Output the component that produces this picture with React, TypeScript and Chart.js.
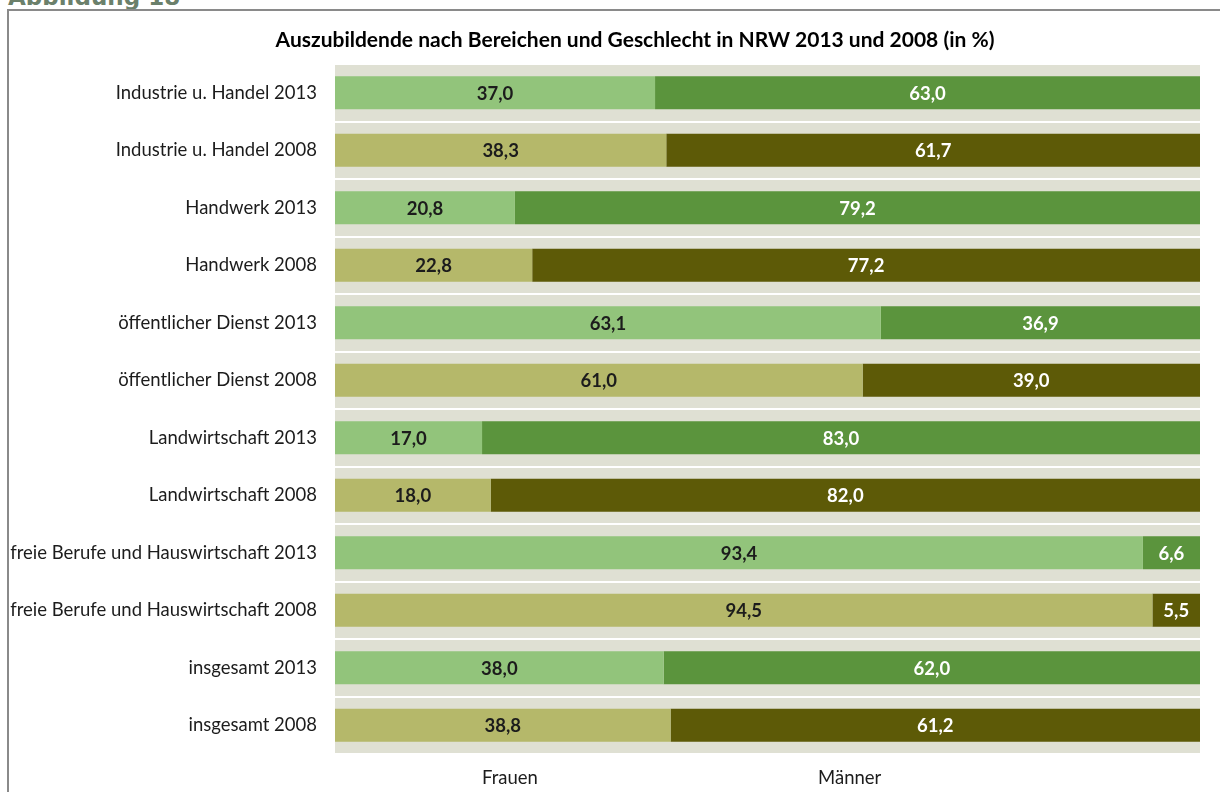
import React, { useEffect, useRef } from "react";
import { Chart, registerables } from "chart.js";

Chart.register(...registerables);

const chartTitle = "Auszubildende nach Bereichen und Geschlecht in NRW 2013 und 2008 (in %)";
const figureLabel = "Abbildung 18";

const categories = [
  "Industrie u. Handel 2013",
  "Industrie u. Handel 2008",
  "Handwerk 2013",
  "Handwerk 2008",
  "öffentlicher Dienst 2013",
  "öffentlicher Dienst 2008",
  "Landwirtschaft 2013",
  "Landwirtschaft 2008",
  "freie Berufe und Hauswirtschaft 2013",
  "freie Berufe und Hauswirtschaft 2008",
  "insgesamt 2013",
  "insgesamt 2008",
];

const seriesNames = ["Frauen", "Männer"];

const frauenValues = [37.0, 38.3, 20.8, 22.8, 63.1, 61.0, 17.0, 18.0, 93.4, 94.5, 38.0, 38.8];
const maennerValues = [63.0, 61.7, 79.2, 77.2, 36.9, 39.0, 83.0, 82.0, 6.6, 5.5, 62.0, 61.2];

const FONT = "Lato, 'Open Sans', sans-serif";
const PLOT_BG = "#dfe0d3";
const FRAUEN_2013 = "#92c47b";
const FRAUEN_2008 = "#b5b86a";
const MAENNER_2013 = "#5b943d";
const MAENNER_2008 = "#5d5a07";

const is2013 = (c: string) => c.endsWith("2013");
const frauenColors = categories.map((c) => (is2013(c) ? FRAUEN_2013 : FRAUEN_2008));
const maennerColors = categories.map((c) => (is2013(c) ? MAENNER_2013 : MAENNER_2008));
const fmt = (v: number) => v.toFixed(1).replace(".", ",");

const plotBackground = {
  id: "plotBackground",
  beforeDraw(chart: any) {
    const { ctx, chartArea } = chart;
    ctx.save();
    ctx.fillStyle = PLOT_BG;
    ctx.fillRect(chartArea.left, chartArea.top, chartArea.right - chartArea.left, chartArea.bottom - chartArea.top);
    ctx.restore();
  },
};

const titlePlugin = {
  id: "titleText",
  afterDraw(chart: any) {
    const { ctx } = chart;
    ctx.save();
    ctx.font = `bold 21px ${FONT}`;
    ctx.fillStyle = "#000000";
    ctx.textAlign = "center";
    ctx.textBaseline = "middle";
    ctx.fillText(chartTitle, 626, 29);
    ctx.restore();
  },
};

const barLabels = {
  id: "barLabels",
  afterDatasetsDraw(chart: any) {
    const { ctx } = chart;
    ctx.save();
    ctx.font = `bold 18.5px ${FONT}`;
    ctx.textAlign = "center";
    ctx.textBaseline = "middle";
    chart.data.datasets.forEach((ds: any, di: number) => {
      const meta = chart.getDatasetMeta(di);
      meta.data.forEach((el: any, i: number) => {
        const v = ds.data[i];
        ctx.fillStyle = di === 0 ? "#1c1c1c" : "#ffffff";
        ctx.fillText(fmt(v), (el.x + el.base) / 2, el.y + 1);
      });
    });
    ctx.restore();
  },
};

const bottomLegend = {
  id: "bottomLegend",
  afterDraw(chart: any) {
    const { ctx, chartArea } = chart;
    const w = chartArea.right - chartArea.left;
    const fr = [0.2023, 0.595];
    ctx.save();
    ctx.font = `18.5px ${FONT}`;
    ctx.fillStyle = "#1c1c1c";
    ctx.textAlign = "center";
    ctx.textBaseline = "middle";
    chart.data.datasets.forEach((ds: any, i: number) => {
      ctx.fillText(ds.label, chartArea.left + w * fr[i], chartArea.bottom + 24);
    });
    ctx.restore();
  },
};

export default function App() {
  const canvasRef = useRef<HTMLCanvasElement | null>(null);

  useEffect(() => {
    let chart: Chart | null = null;
    let cancelled = false;
    const make = () => {
      if (cancelled || !canvasRef.current) return;
      chart = new Chart(canvasRef.current, {
        type: "bar",
        data: {
          labels: categories,
          datasets: [
            {
              label: seriesNames[0],
              data: frauenValues,
              backgroundColor: frauenColors,
              borderWidth: 0,
              barPercentage: 0.574,
              categoryPercentage: 1,
            },
            {
              label: seriesNames[1],
              data: maennerValues,
              backgroundColor: maennerColors,
              borderWidth: 0,
              barPercentage: 0.574,
              categoryPercentage: 1,
            },
          ],
        },
        options: {
          indexAxis: "y",
          responsive: false,
          animation: false,
          layout: { padding: { left: 0, right: 59, top: 53, bottom: 57 } },
          plugins: {
            legend: { display: false },
            tooltip: { enabled: false },
            title: { display: false },
          },
          scales: {
            x: { type: "linear", stacked: true, min: 0, max: 100, display: false },
            y: {
              type: "category",
              stacked: true,
              offset: true,
              border: { display: false },
              grid: { offset: true, color: "#ffffff", lineWidth: 2, drawTicks: false },
              ticks: { padding: 18, color: "#1c1c1c", font: { family: FONT, size: 18.5 } },
              afterFit: (scale: any) => {
                scale.width = 326;
              },
            },
          },
        },
        plugins: [plotBackground, barLabels, bottomLegend, titlePlugin],
      });
    };
    const fonts: any = (document as any).fonts;
    if (fonts && fonts.load) {
      Promise.all([fonts.load(`16px Lato`), fonts.load(`bold 16px Lato`)]).then(make, make);
    } else {
      make();
    }
    return () => {
      cancelled = true;
      if (chart) chart.destroy();
    };
  }, []);

  return (
    <div style={{ position: "fixed", left: 0, top: 0, width: 1220, height: 792, overflow: "hidden", background: "#fff" }}>
      <div
        style={{
          position: "absolute",
          left: 8,
          top: -14.5,
          fontFamily: "'DejaVu Sans', sans-serif",
          fontWeight: "bold",
          fontSize: 23,
          lineHeight: "23px",
          color: "#6b806b",
          whiteSpace: "nowrap",
        }}
      >
        {figureLabel}
      </div>
      <div
        style={{
          position: "absolute",
          left: 7,
          top: 9,
          width: 1400,
          height: 900,
          borderLeft: "2px solid #8a8a8a",
          borderTop: "2px solid #8a8a8a",
        }}
      />
      <canvas ref={canvasRef} width={1250} height={800} style={{ position: "absolute", left: 9, top: 11 }} />
    </div>
  );
}
